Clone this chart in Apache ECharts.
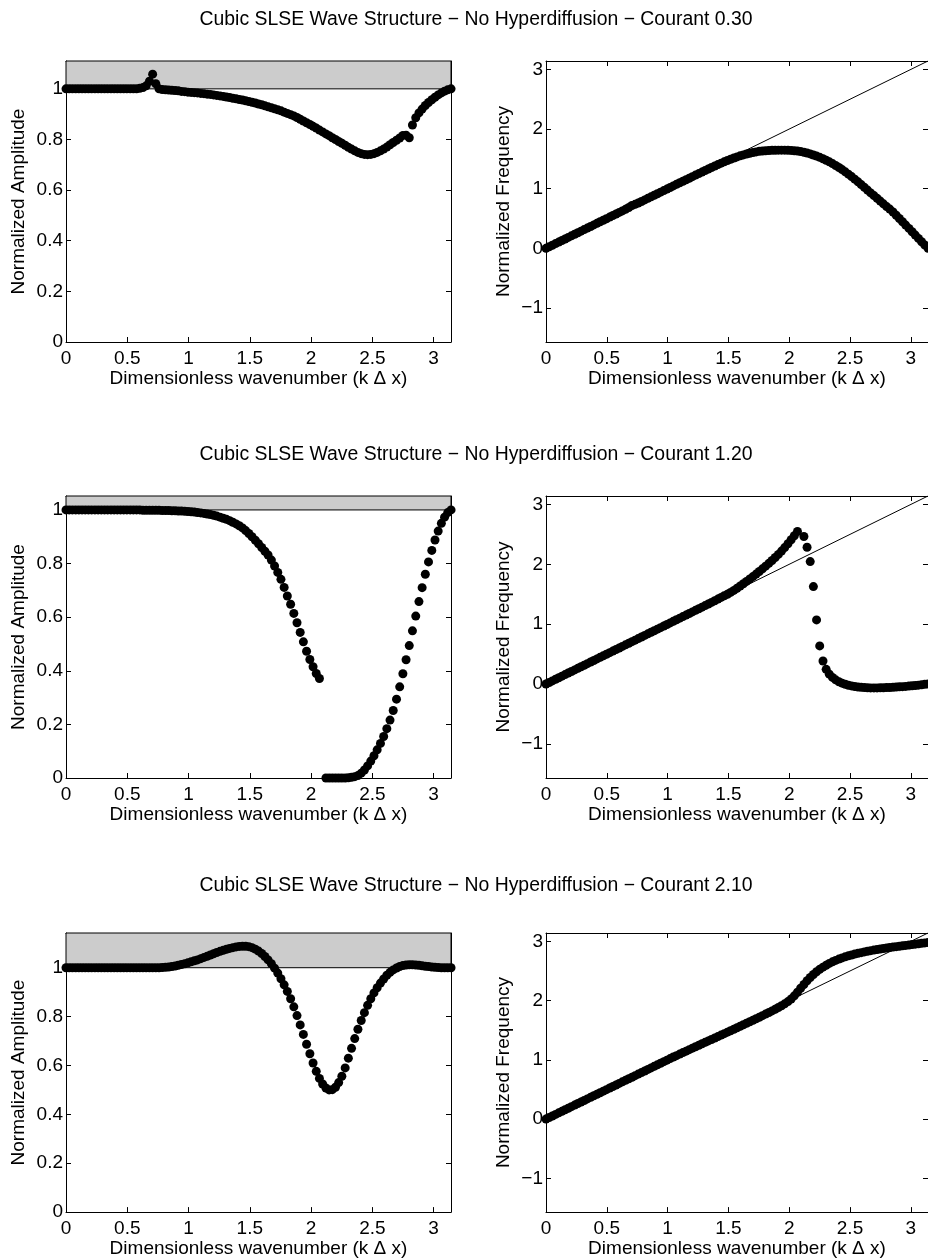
<!DOCTYPE html>
<html>
<head>
<meta charset="utf-8">
<script src="https://cdn.jsdelivr.net/npm/echarts@6/dist/echarts.min.js"></script>
<style>
  html, body { margin: 0; padding: 0; background: #fff; }
  #chart { width: 928px; height: 1259px; }
</style>
</head>
<body>
<div id="chart"></div>
<script>
// dimensionless wavenumber k*dx (shared by all panels)
const kdx = [
  0, 0.026, 0.052, 0.079, 0.105, 0.131, 0.157, 0.183, 0.209, 0.236,
  0.262, 0.288, 0.314, 0.340, 0.367, 0.393, 0.419, 0.445, 0.471, 0.497,
  0.524, 0.550, 0.576, 0.602, 0.628, 0.654, 0.681, 0.707, 0.733, 0.759,
  0.785, 0.812, 0.838, 0.864, 0.890, 0.916, 0.942, 0.969, 0.995, 1.021,
  1.047, 1.073, 1.100, 1.126, 1.152, 1.178, 1.204, 1.230, 1.257, 1.283,
  1.309, 1.335, 1.361, 1.388, 1.414, 1.440, 1.466, 1.492, 1.518, 1.545,
  1.571, 1.597, 1.623, 1.649, 1.676, 1.702, 1.728, 1.754, 1.780, 1.806,
  1.833, 1.859, 1.885, 1.911, 1.937, 1.963, 1.990, 2.016, 2.042, 2.068,
  2.094, 2.121, 2.147, 2.173, 2.199, 2.225, 2.251, 2.278, 2.304, 2.330,
  2.356, 2.382, 2.409, 2.435, 2.461, 2.487, 2.513, 2.539, 2.566, 2.592,
  2.618, 2.644, 2.670, 2.697, 2.723, 2.749, 2.775, 2.801, 2.827, 2.854,
  2.880, 2.906, 2.932, 2.958, 2.985, 3.011, 3.037, 3.063, 3.089, 3.115,
  3.142
];

// Courant 0.30
const amp030 = [
  1.000, 1.000, 1.000, 1.000, 1.000, 1.000, 1.000, 1.000, 1.000, 1.000,
  1.000, 1.000, 1.000, 1.000, 1.000, 1.000, 1.000, 1.000, 1.000, 1.000,
  1.000, 1.000, 1.000, 1.002, 1.005, 1.012, 1.030, 1.058, 1.020, 1.000,
  0.997, 0.996, 0.995, 0.994, 0.993, 0.992, 0.990, 0.989, 0.987, 0.986,
  0.985, 0.984, 0.982, 0.981, 0.979, 0.978, 0.976, 0.974, 0.972, 0.970,
  0.968, 0.966, 0.963, 0.961, 0.958, 0.956, 0.953, 0.950, 0.947, 0.944,
  0.940, 0.937, 0.933, 0.929, 0.925, 0.921, 0.917, 0.913, 0.908, 0.903,
  0.898, 0.893, 0.887, 0.880, 0.873, 0.866, 0.859, 0.852, 0.845, 0.837,
  0.830, 0.822, 0.815, 0.807, 0.800, 0.792, 0.785, 0.777, 0.769, 0.762,
  0.755, 0.749, 0.744, 0.741, 0.740, 0.741, 0.744, 0.749, 0.755, 0.762,
  0.770, 0.779, 0.788, 0.797, 0.806, 0.816, 0.817, 0.807, 0.857, 0.886,
  0.905, 0.920, 0.934, 0.946, 0.957, 0.967, 0.976, 0.984, 0.991, 0.996,
  1.000
];
const freq030 = [
  0, 0.026, 0.052, 0.079, 0.105, 0.131, 0.157, 0.183, 0.209, 0.236,
  0.262, 0.288, 0.314, 0.340, 0.367, 0.393, 0.419, 0.445, 0.471, 0.497,
  0.524, 0.550, 0.576, 0.602, 0.628, 0.654, 0.684, 0.718, 0.738, 0.761,
  0.786, 0.812, 0.838, 0.864, 0.890, 0.916, 0.942, 0.968, 0.994, 1.020,
  1.047, 1.073, 1.099, 1.125, 1.151, 1.176, 1.202, 1.228, 1.253, 1.279,
  1.305, 1.330, 1.355, 1.380, 1.404, 1.428, 1.451, 1.473, 1.494, 1.514,
  1.533, 1.551, 1.567, 1.582, 1.595, 1.607, 1.617, 1.626, 1.632, 1.637,
  1.641, 1.643, 1.645, 1.646, 1.646, 1.646, 1.644, 1.642, 1.637, 1.631,
  1.622, 1.611, 1.598, 1.583, 1.566, 1.547, 1.526, 1.503, 1.478, 1.451,
  1.421, 1.390, 1.356, 1.321, 1.283, 1.244, 1.203, 1.160, 1.115, 1.069,
  1.023, 0.977, 0.930, 0.884, 0.838, 0.792, 0.746, 0.700, 0.658, 0.610,
  0.555, 0.500, 0.445, 0.390, 0.334, 0.278, 0.222, 0.166, 0.110, 0.055,
  0.000
];

// Courant 1.20 (null = no point drawn)
const amp120 = [
  1.000, 1.000, 1.000, 1.000, 1.000, 1.000, 1.000, 1.000, 1.000, 1.000,
  1.000, 1.000, 1.000, 1.000, 1.000, 1.000, 1.000, 1.000, 1.000, 1.000,
  1.000, 1.000, 1.000, 1.000, 0.999, 0.999, 0.999, 0.999, 0.999, 0.999,
  0.998, 0.998, 0.998, 0.997, 0.997, 0.996, 0.996, 0.995, 0.994, 0.993,
  0.992, 0.990, 0.989, 0.987, 0.985, 0.983, 0.980, 0.977, 0.973, 0.969,
  0.965, 0.960, 0.954, 0.948, 0.941, 0.933, 0.923, 0.912, 0.900, 0.887,
  0.874, 0.860, 0.846, 0.832, 0.813, 0.791, 0.767, 0.741, 0.711, 0.679,
  0.648, 0.614, 0.579, 0.543, 0.508, 0.473, 0.442, 0.415, 0.390, 0.371,
  null, 0.000, 0.000, 0.000, 0.000, 0.000, 0.000, 0.000, 0.001, 0.003,
  0.005, 0.009, 0.018, 0.030, 0.045, 0.063, 0.083, 0.105, 0.129, 0.155,
  0.184, 0.216, 0.252, 0.294, 0.340, 0.389, 0.441, 0.494, 0.549, 0.604,
  0.658, 0.710, 0.760, 0.806, 0.849, 0.888, 0.921, 0.950, 0.973, 0.990,
  1.000
];
const freq120 = [
  0, 0.026, 0.052, 0.079, 0.105, 0.131, 0.157, 0.183, 0.209, 0.236,
  0.262, 0.288, 0.314, 0.340, 0.367, 0.393, 0.419, 0.445, 0.471, 0.497,
  0.524, 0.550, 0.576, 0.602, 0.628, 0.654, 0.681, 0.707, 0.733, 0.759,
  0.785, 0.812, 0.838, 0.864, 0.890, 0.916, 0.942, 0.969, 0.995, 1.021,
  1.047, 1.073, 1.100, 1.126, 1.152, 1.178, 1.205, 1.231, 1.258, 1.284,
  1.310, 1.337, 1.364, 1.392, 1.419, 1.447, 1.475, 1.500, 1.530, 1.564,
  1.600, 1.637, 1.675, 1.714, 1.754, 1.795, 1.837, 1.880, 1.924, 1.969,
  2.016, 2.064, 2.114, 2.166, 2.221, 2.280, 2.343, 2.410, 2.478, 2.548,
  null, 2.465, 2.286, 2.046, 1.628, 1.071, 0.636, 0.385, 0.245, 0.165,
  0.110, 0.070, 0.038, 0.014, -0.005, -0.020, -0.032, -0.042, -0.050, -0.056,
  -0.060, -0.063, -0.065, -0.065, -0.065, -0.064, -0.062, -0.060, -0.058, -0.055,
  -0.052, -0.048, -0.044, -0.040, -0.035, -0.030, -0.025, -0.019, -0.013, -0.006,
  0.000
];

// Courant 2.10
const amp210 = [
  1.000, 1.000, 1.000, 1.000, 1.000, 1.000, 1.000, 1.000, 1.000, 1.000,
  1.000, 1.000, 1.000, 1.000, 1.000, 1.000, 1.000, 1.000, 1.000, 1.000,
  1.000, 1.000, 1.000, 1.000, 1.000, 1.000, 1.000, 1.000, 1.000, 1.000,
  1.001, 1.002, 1.003, 1.005, 1.007, 1.010, 1.013, 1.016, 1.020, 1.024,
  1.028, 1.032, 1.037, 1.042, 1.047, 1.052, 1.057, 1.062, 1.067, 1.071,
  1.075, 1.079, 1.082, 1.085, 1.087, 1.088, 1.088, 1.086, 1.082, 1.076,
  1.068, 1.058, 1.046, 1.032, 1.016, 0.998, 0.978, 0.955, 0.930, 0.903,
  0.873, 0.840, 0.804, 0.766, 0.727, 0.687, 0.648, 0.610, 0.576, 0.547,
  0.524, 0.508, 0.500, 0.501, 0.511, 0.530, 0.556, 0.590, 0.630, 0.670,
  0.710, 0.748, 0.784, 0.816, 0.846, 0.873, 0.897, 0.918, 0.937, 0.954,
  0.969, 0.981, 0.991, 0.999, 1.005, 1.009, 1.011, 1.012, 1.012, 1.011,
  1.010, 1.008, 1.006, 1.005, 1.003, 1.002, 1.001, 1.000, 1.000, 1.000,
  1.000
];
const freq210 = [
  0, 0.026, 0.052, 0.079, 0.105, 0.131, 0.157, 0.183, 0.209, 0.236,
  0.262, 0.288, 0.314, 0.340, 0.367, 0.393, 0.419, 0.445, 0.471, 0.497,
  0.524, 0.550, 0.576, 0.602, 0.628, 0.654, 0.681, 0.707, 0.733, 0.759,
  0.785, 0.812, 0.838, 0.864, 0.890, 0.916, 0.942, 0.969, 0.995, 1.021,
  1.047, 1.071, 1.097, 1.122, 1.147, 1.172, 1.197, 1.221, 1.246, 1.271,
  1.295, 1.320, 1.344, 1.369, 1.393, 1.418, 1.442, 1.467, 1.492, 1.517,
  1.542, 1.567, 1.592, 1.617, 1.643, 1.668, 1.694, 1.720, 1.746, 1.772,
  1.799, 1.826, 1.854, 1.883, 1.913, 1.946, 1.983, 2.027, 2.080, 2.142,
  2.208, 2.273, 2.335, 2.391, 2.441, 2.487, 2.528, 2.565, 2.598, 2.628,
  2.655, 2.679, 2.701, 2.721, 2.739, 2.756, 2.771, 2.785, 2.798, 2.810,
  2.822, 2.833, 2.843, 2.853, 2.862, 2.871, 2.880, 2.888, 2.896, 2.904,
  2.911, 2.918, 2.925, 2.932, 2.939, 2.946, 2.953, 2.960, 2.967, 2.974,
  2.980
];

const courants = ['0.30', '1.20', '2.10'];
const ampSeries = [amp030, amp120, amp210];
const freqSeries = [freq030, freq120, freq210];
const ampTop = [1.11, 1.052, 1.142];   // upper y limit of each amplitude panel
const xTicks = [0, 0.5, 1, 1.5, 2, 2.5, 3];
const ampTicks = [0, 0.2, 0.4, 0.6, 0.8, 1];
const freqTicks = [-1, 0, 1, 2, 3];
const refK = [0, 3.1416];   // exact dispersion line w = k
const refW = [0, 3.1416];

const FONT = '"Liberation Sans", Arial, Helvetica, sans-serif';
const rowTop = [61, 496, 933];
const rowHeight = [281, 282, 280];
const titleY = [20, 455, 886];

const chart = echarts.init(document.getElementById('chart'), null, { renderer: 'canvas' });

const fmt = v => (v < 0 ? '\u2212' + Math.abs(v) : String(v));
const textStyle = { color: '#000', fontSize: 19, fontFamily: FONT };
const lineBlack = { color: '#000', width: 1 };
const dotStyle = { color: '#000', opacity: 1 };

const grid = [], xAxis = [], yAxis = [], series = [], graphic = [];

function addPanel(g, left, width, r, yMin, yMax, yTicks, yName, yGap) {
  grid.push({ left: left, top: rowTop[r], width: width, height: rowHeight[r] });
  // bottom + top x axes (ticks inside, box look)
  xAxis.push({
    gridIndex: g, type: 'value', min: 0, max: Math.PI, position: 'bottom',
    axisLine: { onZero: false, lineStyle: lineBlack },
    axisTick: { inside: true, length: 5, customValues: xTicks, lineStyle: lineBlack },
    axisLabel: { customValues: xTicks, margin: 7, formatter: fmt, ...textStyle },
    splitLine: { show: false },
    name: 'Dimensionless wavenumber (k \u0394 x)', nameLocation: 'middle', nameGap: 25,
    nameTextStyle: textStyle
  });
  xAxis.push({
    gridIndex: g, type: 'value', min: 0, max: Math.PI, position: 'top',
    axisLine: { onZero: false, lineStyle: lineBlack },
    axisTick: { inside: true, length: 5, customValues: xTicks, lineStyle: lineBlack },
    axisLabel: { show: false }, splitLine: { show: false }
  });
  yAxis.push({
    gridIndex: g, type: 'value', min: yMin, max: yMax, position: 'left',
    axisLine: { onZero: false, lineStyle: lineBlack },
    axisTick: { inside: true, length: 5, customValues: yTicks, lineStyle: lineBlack },
    axisLabel: { customValues: yTicks, margin: 3, formatter: fmt, ...textStyle },
    splitLine: { show: false },
    name: yName, nameLocation: 'middle', nameGap: yGap, nameRotate: 90,
    nameTextStyle: textStyle
  });
  yAxis.push({
    gridIndex: g, type: 'value', min: yMin, max: yMax, position: 'right',
    axisLine: { onZero: false, lineStyle: lineBlack },
    axisTick: { inside: true, length: 5, customValues: yTicks, lineStyle: lineBlack },
    axisLabel: { show: false }, splitLine: { show: false }
  });
}

function pairs(ys) {
  const out = [];
  kdx.forEach((k, i) => { if (ys[i] != null) out.push([k, ys[i]]); });
  return out;
}

for (let r = 0; r < 3; r++) {
  const ga = 2 * r, gf = 2 * r + 1;
  addPanel(ga, 66, 385, r, 0, ampTop[r], ampTicks, 'Normalized Amplitude', 38);
  addPanel(gf, 546, 384.5, r, -Math.PI / 2, Math.PI, freqTicks, 'Normalized Frequency', 33);

  // amplitude: dots + grey band above 1
  series.push({
    type: 'scatter', xAxisIndex: 2 * ga, yAxisIndex: 2 * ga, z: 3,
    data: pairs(ampSeries[r]), symbol: 'circle', symbolSize: 9,
    itemStyle: dotStyle, silent: true,
    markArea: {
      silent: true,
      itemStyle: { color: '#cccccc', borderColor: '#000', borderWidth: 1, opacity: 1 },
      data: [[{ yAxis: 1 }, { yAxis: ampTop[r] }]]
    }
  });
  // frequency: exact line + dots
  series.push({
    type: 'line', xAxisIndex: 2 * gf, yAxisIndex: 2 * gf, z: 2,
    data: refK.map((k, i) => [k, refW[i]]), showSymbol: false, symbol: 'none',
    lineStyle: { color: '#000', width: 1 }, silent: true
  });
  series.push({
    type: 'scatter', xAxisIndex: 2 * gf, yAxisIndex: 2 * gf, z: 3,
    data: pairs(freqSeries[r]), symbol: 'circle', symbolSize: 9,
    itemStyle: dotStyle, silent: true
  });

  graphic.push({
    type: 'text', x: 476, y: titleY[r],
    style: {
      text: 'Cubic SLSE Wave Structure \u2212 No Hyperdiffusion \u2212 Courant ' + courants[r],
      fill: '#000', font: '19.4px ' + FONT, textAlign: 'center', textVerticalAlign: 'middle'
    }
  });
}

chart.setOption({
  animation: false,
  backgroundColor: '#fff',
  grid, xAxis, yAxis, series, graphic
});
</script>
</body>
</html>
